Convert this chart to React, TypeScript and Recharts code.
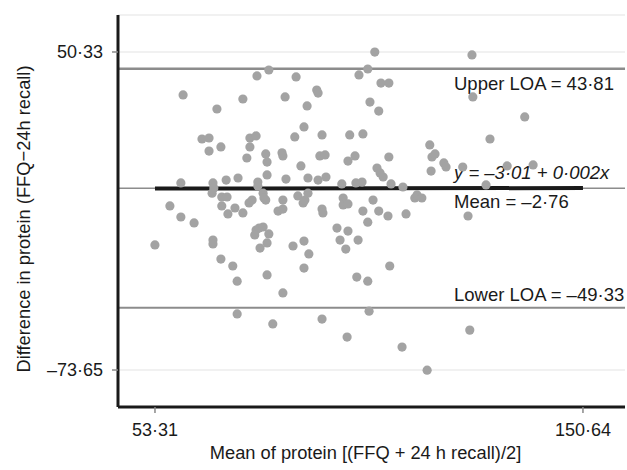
import React from "react";
import {
  ScatterChart,
  Scatter,
  XAxis,
  YAxis,
  CartesianGrid,
  ReferenceLine,
} from "recharts";

// mean of protein [(FFQ + 24h recall)/2]
const meanProtein = [
  59.7, 67.4, 73.3, 76.5, 79.2, 64.0, 65.6, 65.6, 68.3, 74.9,
  76.3, 74.9, 74.2, 78.5, 78.8, 78.8, 59.2, 66.5, 69.5, 72.2,
  76.7, 82.2, 82.4, 103.3, 101.7, 99.7, 104.7, 106.5, 85.4, 82.9,
  90.1, 90.4, 87.9, 102.2, 104.2, 87.2, 85.1, 91.3, 97.6, 100.6,
  90.8, 92.0, 97.2, 98.8, 106.5, 86.5, 103.8, 104.5, 105.2, 83.1,
  88.1, 90.4, 92.2, 95.8, 99.0, 100.4, 107.0, 109.7, 125.4, 125.6,
  137.4, 129.5, 115.8, 116.3, 117.0, 119.0, 119.5, 116.1, 123.3, 133.4,
  139.3, 128.6, 66.7, 66.3, 68.5, 69.7, 56.7, 68.5, 69.9, 71.5,
  73.3, 74.7, 75.4, 77.9, 78.1, 59.2, 62.2, 53.3, 66.5, 66.5,
  76.3, 77.0, 77.9, 76.0, 79.2, 78.8, 77.2, 68.3, 71.0, 72.0,
  78.8, 72.0, 80.1, 82.4, 81.3, 82.4, 82.4, 85.8, 87.0, 87.4,
  88.1, 91.3, 91.5, 96.1, 96.1, 97.2, 102.9, 100.6, 101.7, 104.2,
  106.3, 110.4, 112.4, 112.9, 94.7, 97.2, 95.4, 99.5, 96.7, 84.7,
  87.2, 88.3, 87.2, 106.7, 99.2, 101.7, 102.0, 91.3, 97.0, 109.5,
  115.2, 124.5, 124.9, 114.0, 78.5, 76.7,
];

// difference in protein (FFQ - 24h recall)
const diffProtein = [
  33.6, 28.1, 32.0, 41.0, 43.3, 16.4, 16.8, 11.7, 13.3, 16.8,
  17.6, 13.3, 9.0, 10.6, 7.4, 2.4, -0.7, -0.7, 0.4, 1.2,
  -0.4, 11.0, 9.8, 50.3, 43.7, 41.4, 38.2, 38.2, 40.6, 32.8,
  35.5, 34.3, 29.3, 30.8, 27.3, 21.1, 17.2, 18.0, 18.0, 18.4,
  9.8, 10.2, 7.8, 9.8, 9.4, 5.9, 5.1, 3.2, 1.6, 0.8,
  1.2, 0.4, 1.6, -1.1, -0.7, -0.4, -1.1, -2.3, 49.2, 32.8,
  25.0, 16.4, 14.1, 9.4, 10.6, 7.1, 5.5, 3.9, 5.5, 5.9,
  6.3, -1.5, -2.7, -4.7, -6.2, -6.2, -9.7, -9.7, -12.8, -10.5,
  -12.4, -8.5, -7.4, -4.7, -6.6, -14.0, -16.3, -24.9, -23.0, -24.5,
  -19.1, -18.3, -17.9, -21.0, -20.6, -24.1, -26.1, -30.4, -33.1, -39.0,
  -36.6, -51.8, -55.7, -43.6, -11.7, -10.9, -7.4, -5.8, -8.5, -7.4,
  -4.7, -10.9, -12.4, -6.6, -9.3, -8.9, -7.4, -11.7, -16.0, -11.7,
  -13.6, -12.8, -6.6, -5.4, -18.3, -19.5, -23.0, -23.0, -26.5, -25.3,
  -23.4, -28.4, -33.9, -33.1, -37.4, -39.0, -50.7, -53.8, -60.8, -64.7,
  -73.7, -13.6, -58.1, -6.6, -7.4, -1.9,
];

const xTicks = [53.31, 150.64];
const yTicks = [-73.65, 50.33];

const upperLoa = 43.81;
const meanDiff = -2.76;
const lowerLoa = -49.33;
const fitIntercept = -3.01;
const fitSlope = 0.002;

const points = meanProtein.map((x, i) => ({ x, y: diffProtein[i] }));
const fit = (x: number) => fitIntercept + fitSlope * x;

const fmt = (v: number) => v.toFixed(2).replace(".", "·").replace("-", "–");

const FONT = "'Liberation Sans', Arial, Helvetica, sans-serif";
const ANNO_X = 454;

function anno(text: string, dy: number, italic = false) {
  return (props: any) => (
    <text
      x={ANNO_X}
      y={props.viewBox.y + dy}
      fontSize={18.5}
      fontFamily={FONT}
      fontStyle={italic ? "italic" : "normal"}
      fill="#1a1a1a"
    >
      {text}
    </text>
  );
}

const dot = (props: any) => (
  <circle cx={props.cx} cy={props.cy} r={4.6} fill="#a3a3a3" />
);

export default function App() {
  return (
    <div style={{ position: "absolute", left: 0, top: 0, background: "#fff" }}>
      <ScatterChart
        width={627}
        height={470}
        margin={{ top: 15, right: 2, left: 58, bottom: 33 }}
      >
        <CartesianGrid
          vertical={false}
          stroke="#ececec"
          strokeWidth={1.5}
        />
        <XAxis
          type="number"
          dataKey="x"
          domain={[44.9, 160.2]}
          ticks={xTicks}
          tickFormatter={fmt}
          allowDataOverflow
          height={30}
          axisLine={{ stroke: "#1a1a1a", strokeWidth: 3 }}
          tickLine={{ stroke: "#888", strokeWidth: 1.5 }}
          tickSize={6}
          tickMargin={10}
          tick={{ fill: "#1a1a1a", fontSize: 18, fontFamily: FONT }}
          label={(props: any) => (
            <text
              x={props.viewBox.x + props.viewBox.width / 2 - 6}
              y={459}
              textAnchor="middle"
              fontSize={18.3}
              fontFamily={FONT}
              fill="#1a1a1a"
            >
              Mean of protein [(FFQ + 24 h recall)/2]
            </text>
          )}
        />
        <YAxis
          type="number"
          dataKey="y"
          domain={[-88.07, 64.75]}
          ticks={yTicks}
          tickFormatter={fmt}
          allowDataOverflow
          width={60}
          axisLine={{ stroke: "#1a1a1a", strokeWidth: 3 }}
          tickLine={{ stroke: "#888", strokeWidth: 1.5 }}
          tickSize={6}
          tickMargin={9}
          tick={{ fill: "#1a1a1a", fontSize: 18, fontFamily: FONT }}
          label={() => (
            <text
              x={30}
              y={219}
              transform="rotate(-90 30 219)"
              textAnchor="middle"
              fontSize={18.3}
              fontFamily={FONT}
              fill="#1a1a1a"
            >
              Difference in protein (FFQ−24h recall)
            </text>
          )}
        />
        <ReferenceLine
          y={upperLoa}
          stroke="#8c8c8c"
          strokeWidth={2.5}
          label={anno(`Upper LOA = ${fmt(upperLoa)}`, 21)}
        />
        <ReferenceLine
          y={meanDiff}
          stroke="#8c8c8c"
          strokeWidth={1.5}
          label={anno(`Mean = ${fmt(meanDiff)}`, 20)}
        />
        <ReferenceLine
          y={lowerLoa}
          stroke="#8c8c8c"
          strokeWidth={2}
          label={anno(`Lower LOA = ${fmt(lowerLoa)}`, -6.5)}
        />
        <Scatter
          data={points}
          shape={dot}
          isAnimationActive={false}
        />
        <ReferenceLine
          segment={[
            { x: xTicks[0], y: fit(xTicks[0]) },
            { x: xTicks[1], y: fit(xTicks[1]) },
          ]}
          stroke="#1a1a1a"
          strokeWidth={4}
          label={anno(`y = ${fmt(fitIntercept)} + ${String(fitSlope).replace(".", "·")}x`, -9, true)}
        />
      </ScatterChart>
    </div>
  );
}
